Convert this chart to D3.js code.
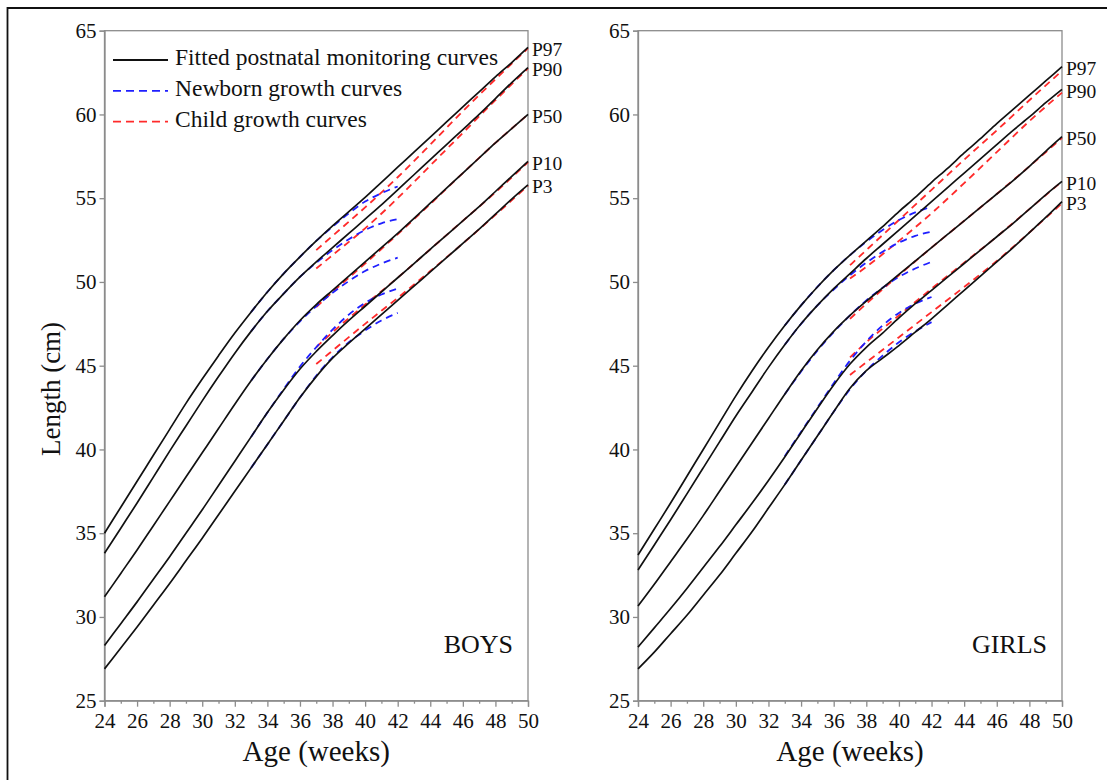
<!DOCTYPE html>
<html>
<head>
<meta charset="utf-8">
<script src="https://cdn.jsdelivr.net/npm/d3@7"></script>
<style>
  body { margin: 0; background: #fff; }
  svg { display: block; }
  text { font-family: "Liberation Serif", "Times New Roman", serif; fill: #111; }
</style>
</head>
<body>
<svg id="chart" width="1107" height="780"></svg>
<script>
// ---- Postmenstrual age grids (weeks) ----
const fittedWeeks  = [24, 25, 26, 27, 28, 29, 30, 31, 32, 33, 34, 35, 36, 37,
                      38, 39, 40, 41, 42, 43, 44, 45, 46, 47, 48, 49, 50];
const newbornWeeks = [33, 34, 35, 36, 37, 38, 39, 40, 41, 42];
const childWeeks   = [37, 38, 40, 42, 44, 46, 48, 50];
const percentileLabels = ["P97", "P90", "P50", "P10", "P3"];
const yTicks = [25, 30, 35, 40, 45, 50, 55, 60, 65];
const xTicks = [24, 26, 28, 30, 32, 34, 36, 38, 40, 42, 44, 46, 48, 50];

// ---- Boys: fitted postnatal monitoring curves (cm) ----
const boysP97 = [35.0, 36.55, 38.1, 39.65, 41.2, 42.75, 44.2, 45.6, 46.95, 48.2, 49.4, 50.5, 51.5, 52.45,
                 53.35, 54.2, 55.05, 55.95, 56.85, 57.75, 58.65, 59.55, 60.45, 61.35, 62.25, 63.1, 64.0];
const boysP90 = [33.8, 35.3, 36.8, 38.35, 39.9, 41.4, 42.9, 44.35, 45.75, 47.05, 48.25, 49.3, 50.3, 51.2,
                 52.05, 52.9, 53.75, 54.6, 55.5, 56.4, 57.3, 58.2, 59.1, 60.0, 60.95, 61.9, 62.8];
const boysP50 = [31.2, 32.6, 34.0, 35.45, 36.9, 38.35, 39.8, 41.25, 42.7, 44.1, 45.4, 46.6, 47.7, 48.65,
                 49.5, 50.35, 51.2, 52.05, 52.9, 53.8, 54.7, 55.6, 56.5, 57.4, 58.3, 59.15, 60.0];
const boysP10 = [28.3, 29.6, 30.9, 32.25, 33.6, 35.0, 36.4, 37.85, 39.3, 40.75, 42.2, 43.55, 44.8, 45.85,
                 46.8, 47.7, 48.55, 49.4, 50.25, 51.1, 51.95, 52.8, 53.65, 54.5, 55.4, 56.3, 57.2];
const boysP3  = [26.9, 28.15, 29.4, 30.7, 32.0, 33.35, 34.7, 36.1, 37.5, 38.9, 40.3, 41.7, 43.1, 44.35,
                 45.45, 46.35, 47.2, 48.05, 48.9, 49.75, 50.6, 51.45, 52.3, 53.15, 54.05, 54.95, 55.8];

// ---- Boys: newborn growth curves ----
const boysNewbornP97 = [48.2, 49.4, 50.5, 51.5, 52.45, 53.3, 54.1, 54.8, 55.3, 55.7];
const boysNewbornP90 = [47.05, 48.25, 49.3, 50.3, 51.15, 51.9, 52.55, 53.1, 53.5, 53.75];
const boysNewbornP50 = [44.1, 45.4, 46.6, 47.65, 48.55, 49.35, 50.05, 50.65, 51.1, 51.45];
const boysNewbornP10 = [40.75, 42.2, 43.6, 44.95, 46.1, 47.15, 48.05, 48.75, 49.25, 49.6];
const boysNewbornP3  = [38.9, 40.3, 41.7, 43.1, 44.4, 45.5, 46.4, 47.1, 47.7, 48.15];

// ---- Boys: child growth curves ----
const boysChildP97 = [51.9, 52.75, 54.45, 56.25, 58.2, 60.2, 62.1, 63.95];
const boysChildP90 = [50.8, 51.6, 53.2, 55.0, 56.95, 58.9, 60.85, 62.75];
const boysChildP50 = [48.5, 49.4, 51.1, 52.85, 54.65, 56.5, 58.3, 60.0];
const boysChildP10 = [46.1, 47.0, 48.65, 50.25, 51.95, 53.65, 55.35, 57.15];
const boysChildP3  = [45.1, 45.9, 47.5, 49.05, 50.65, 52.3, 54.0, 55.75];

// ---- Girls: fitted postnatal monitoring curves (cm) ----
const girlsP97 = [33.7, 35.25, 36.8, 38.4, 40.0, 41.6, 43.2, 44.7, 46.1, 47.4, 48.6, 49.7, 50.7, 51.6,
                  52.45, 53.3, 54.2, 55.05, 55.95, 56.8, 57.7, 58.55, 59.45, 60.3, 61.15, 62.0, 62.85];
const girlsP90 = [32.8, 34.3, 35.8, 37.35, 38.9, 40.45, 42.0, 43.45, 44.9, 46.25, 47.5, 48.6, 49.6, 50.5,
                  51.4, 52.25, 53.1, 53.95, 54.8, 55.65, 56.5, 57.35, 58.2, 59.05, 59.85, 60.7, 61.5];
const girlsP50 = [30.65, 31.95, 33.3, 34.65, 36.05, 37.5, 38.95, 40.4, 41.85, 43.3, 44.7, 45.95, 47.05, 48.0,
                  48.85, 49.65, 50.45, 51.25, 52.05, 52.85, 53.65, 54.45, 55.25, 56.05, 56.9, 57.8, 58.67];
const girlsP10 = [28.2, 29.35, 30.5, 31.7, 32.95, 34.2, 35.5, 36.8, 38.15, 39.55, 41.0, 42.45, 43.85, 45.1,
                  46.1, 46.95, 47.85, 48.7, 49.5, 50.3, 51.1, 51.9, 52.7, 53.5, 54.35, 55.2, 56.0];
const girlsP3  = [26.9, 27.9, 29.0, 30.1, 31.3, 32.5, 33.8, 35.1, 36.5, 37.9, 39.35, 40.8, 42.25, 43.65,
                  44.7, 45.45, 46.2, 47.0, 47.8, 48.65, 49.5, 50.35, 51.2, 52.05, 52.95, 53.85, 54.8];

// ---- Girls: newborn growth curves ----
const girlsNewbornP97 = [47.4, 48.6, 49.7, 50.7, 51.6, 52.4, 53.1, 53.7, 54.15, 54.5];
const girlsNewbornP90 = [46.25, 47.5, 48.6, 49.55, 50.4, 51.15, 51.8, 52.35, 52.75, 53.0];
const girlsNewbornP50 = [43.3, 44.65, 45.9, 47.0, 48.0, 48.9, 49.65, 50.3, 50.8, 51.2];
const girlsNewbornP10 = [39.6, 41.05, 42.5, 43.95, 45.3, 46.45, 47.4, 48.15, 48.7, 49.1];
const girlsNewbornP3  = [37.9, 39.35, 40.8, 42.25, 43.6, 44.7, 45.6, 46.4, 47.05, 47.6];

// ---- Girls: child growth curves ----
const girlsChildP97 = [51.0, 51.9, 53.7, 55.5, 57.3, 59.05, 60.85, 62.6];
const girlsChildP90 = [50.2, 50.9, 52.45, 54.1, 55.9, 57.75, 59.6, 61.3];
const girlsChildP50 = [47.8, 48.7, 50.4, 52.05, 53.65, 55.25, 56.9, 58.6];
const girlsChildP10 = [45.5, 46.4, 48.0, 49.6, 51.15, 52.7, 54.35, 56.0];
const girlsChildP3  = [44.45, 45.2, 46.7, 48.2, 49.7, 51.25, 52.95, 54.7];

const legendLabels = ["Fitted postnatal monitoring curves", "Newborn growth curves", "Child growth curves"];
const colFitted = "#111111", colNewborn = "#1f1fff", colChild = "#ff2a2a";
const serif = "'Liberation Serif', 'Times New Roman', serif";

const svg = d3.select("#chart");
svg.append("rect").attr("width", 1107).attr("height", 780).attr("fill", "#fff");

// outer frame (left and top edges visible)
svg.append("path")
  .attr("d", "M7.5,780 L7.5,8 L1107,8")
  .attr("fill", "none").attr("stroke", "#111").attr("stroke-width", 1.8);

const yRange = [700.7, 30.7];

function drawPanel(opts) {
  const x = d3.scaleLinear().domain([24, 50]).range(opts.xRange);
  const y = d3.scaleLinear().domain([25, 65]).range(yRange);
  const g = svg.append("g");

  // plot box
  g.append("rect")
    .attr("x", x(24)).attr("y", y(65))
    .attr("width", x(50) - x(24)).attr("height", y(25) - y(65))
    .attr("fill", "none").attr("stroke", "#8c8c8c").attr("stroke-width", 1.3);

  // y axis
  const yAxis = g.append("g").attr("transform", `translate(${x(24)},0)`)
    .call(d3.axisLeft(y).tickValues(yTicks).tickSize(5).tickPadding(3).tickFormat(d3.format("d")));
  yAxis.attr("font-family", serif);
  yAxis.select(".domain").attr("stroke", "#8c8c8c").attr("stroke-width", 1.3);
  yAxis.selectAll(".tick line").attr("stroke", "#8c8c8c").attr("stroke-width", 1.3);
  yAxis.selectAll(".tick text").attr("font-size", 21).attr("fill", "#111");

  // x axis: major ticks every 2 weeks, minor every week
  const minor = d3.range(25, 50, 2);
  const xMinor = g.append("g").attr("transform", `translate(0,${y(25)})`)
    .call(d3.axisBottom(x).tickValues(minor).tickSize(3).tickFormat(""));
  xMinor.select(".domain").remove();
  xMinor.selectAll(".tick line").attr("stroke", "#8c8c8c").attr("stroke-width", 1.3);

  const xAxis = g.append("g").attr("transform", `translate(0,${y(25)})`)
    .call(d3.axisBottom(x).tickValues(xTicks).tickSize(6).tickPadding(6).tickFormat(d3.format("d")));
  xAxis.attr("font-family", serif);
  xAxis.select(".domain").attr("stroke", "#8c8c8c").attr("stroke-width", 1.3);
  xAxis.selectAll(".tick line").attr("stroke", "#8c8c8c").attr("stroke-width", 1.3);
  xAxis.selectAll(".tick text").attr("font-size", 21).attr("fill", "#111");

  // axis title
  g.append("text")
    .attr("x", (x(24) + x(50)) / 2).attr("y", 761)
    .attr("text-anchor", "middle").attr("font-size", 29)
    .text("Age (weeks)");

  const line = (xs) => d3.line()
    .x((d, i) => x(xs[i])).y(d => y(d))
    .curve(d3.curveMonotoneX);

  // child growth curves (red dashed)
  opts.child.forEach(s => {
    g.append("path").datum(s).attr("d", line(childWeeks))
      .attr("fill", "none").attr("stroke", colChild).attr("stroke-width", 1.8)
      .attr("stroke-dasharray", "7,5");
  });
  // newborn growth curves (blue dashed)
  opts.newborn.forEach(s => {
    g.append("path").datum(s).attr("d", line(newbornWeeks))
      .attr("fill", "none").attr("stroke", colNewborn).attr("stroke-width", 1.8)
      .attr("stroke-dasharray", "7,5");
  });
  // fitted curves (black solid) with percentile labels at the right end
  opts.fitted.forEach((s, i) => {
    g.append("path").datum(s).attr("d", line(fittedWeeks))
      .attr("fill", "none").attr("stroke", colFitted).attr("stroke-width", 1.7);
    g.append("text")
      .attr("x", x(50) + 4).attr("y", y(s[s.length - 1]) + 4)
      .attr("dominant-baseline", "middle").attr("font-size", 19.5)
      .text(percentileLabels[i]);
  });

  // panel label
  g.append("text")
    .attr("x", x(50) - 15).attr("y", 653)
    .attr("text-anchor", "end").attr("font-size", 26)
    .text(opts.label);

  return { x, y, g };
}

drawPanel({
  xRange: [104.5, 528],
  label: "BOYS",
  fitted: [boysP97, boysP90, boysP50, boysP10, boysP3],
  newborn: [boysNewbornP97, boysNewbornP90, boysNewbornP50, boysNewbornP10, boysNewbornP3],
  child: [boysChildP97, boysChildP90, boysChildP50, boysChildP10, boysChildP3]
});

drawPanel({
  xRange: [638, 1062],
  label: "GIRLS",
  fitted: [girlsP97, girlsP90, girlsP50, girlsP10, girlsP3],
  newborn: [girlsNewbornP97, girlsNewbornP90, girlsNewbornP50, girlsNewbornP10, girlsNewbornP3],
  child: [girlsChildP97, girlsChildP90, girlsChildP50, girlsChildP10, girlsChildP3]
});

// y axis title
svg.append("text")
  .attr("transform", "translate(60,389) rotate(-90)")
  .attr("text-anchor", "middle").attr("font-size", 27)
  .text("Length (cm)");

// legend
const legend = svg.append("g");
const legendStyles = [
  { color: colFitted, dash: null },
  { color: colNewborn, dash: "8,5" },
  { color: colChild, dash: "8,5" }
];
legendLabels.forEach((t, i) => {
  const yy = 60 + i * 30.8;
  legend.append("line")
    .attr("x1", 113).attr("x2", 168).attr("y1", yy).attr("y2", yy)
    .attr("stroke", legendStyles[i].color).attr("stroke-width", 1.8)
    .attr("stroke-dasharray", legendStyles[i].dash);
  legend.append("text")
    .attr("x", 175).attr("y", yy).attr("dominant-baseline", "middle")
    .attr("font-size", 23.5).text(t);
});
</script>
</body>
</html>
